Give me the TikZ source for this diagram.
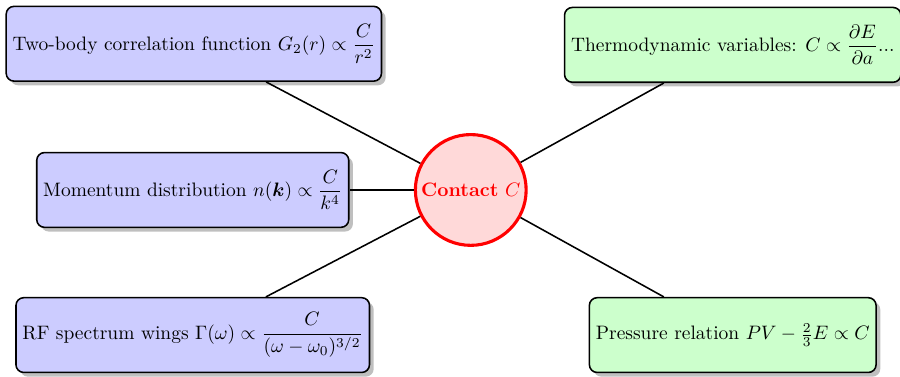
\documentclass[tikz,border=0pt]{standalone}
\usepackage{amsmath}
\usepackage{tikz}
\usetikzlibrary{shadows}

\begin{document}
\begin{tikzpicture}[
    hub/.style={circle, draw=red, fill=red!15, ultra thick, text=red,
                minimum size=2cm, inner sep=1pt},
    probe/.style={draw=black, fill=blue!20, thick, rounded corners=4pt,
                  minimum height=1.35cm, drop shadow},
    thermo/.style={draw=black, fill=green!20, thick, rounded corners=4pt,
                   minimum height=1.35cm, drop shadow},
    link/.style={thick, black},
  ]
    \useasboundingbox (-8.50,-3.36) rectangle (7.75,3.43);

    \node[hub] (contact) at (0,0) {\textbf{Contact} $C$};

    \node[probe]  (pair)   at (-5.00, 2.64) {Two-body correlation function $G_2(r) \propto \dfrac{C}{r^2}$};
    \node[probe]  (tail)   at (-5.02, 0)    {Momentum distribution $n(\boldsymbol{k}) \propto \dfrac{C}{k^4}$};
    \node[probe]  (rf)     at (-5.02,-2.62) {RF spectrum wings $\Gamma(\omega) \propto \dfrac{C}{(\omega-\omega_0)^{3/2}}$};
    \node[thermo] (thermo) at (4.73, 2.62)  {Thermodynamic variables: $C \propto \dfrac{\partial E}{\partial a}$...};
    \node[thermo] (press)  at (4.73,-2.62)  {Pressure relation $PV - \frac{2}{3}E \propto C$};

    % spokes from the contact
    \draw[link] (contact) -- (pair);
    \draw[link] (contact) -- (tail);
    \draw[link] (contact) -- (rf);
    \draw[link] (contact) -- (thermo);
    \draw[link] (contact) -- (press);
  \end{tikzpicture}
\end{document}
